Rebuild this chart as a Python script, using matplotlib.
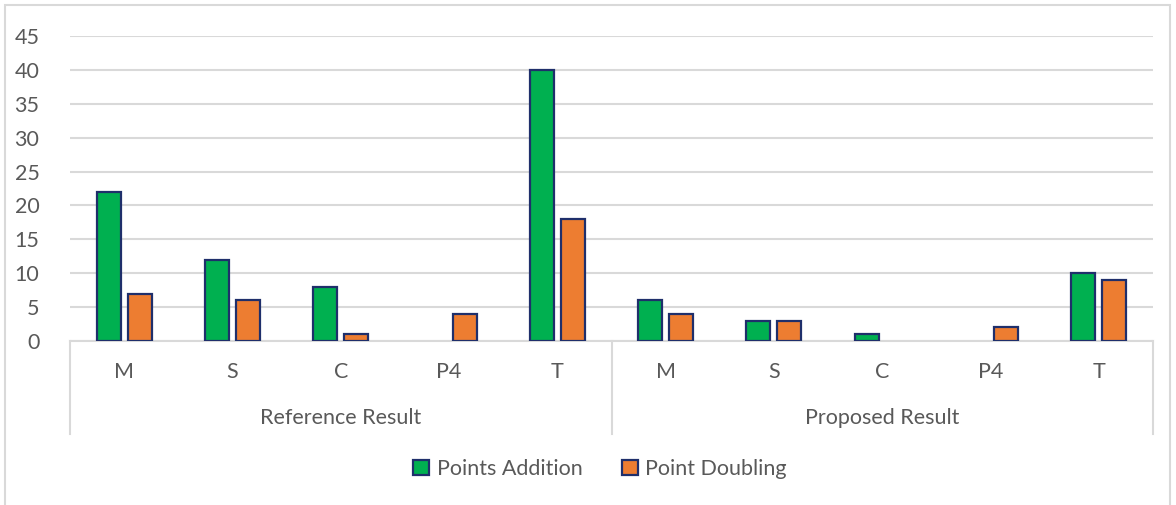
import numpy as np
import matplotlib.pyplot as plt
from matplotlib.patches import Rectangle
from matplotlib.transforms import blended_transform_factory

plt.rcParams["font.family"] = ["Lato", "DejaVu Sans"]

groups = ["Reference Result", "Proposed Result"]
categories = ["M", "S", "C", "P4", "T"]
points_addition = [22, 12, 8, 0, 40, 6, 3, 1, 0, 10]
point_doubling = [7, 6, 1, 4, 18, 4, 3, 0, 2, 9]
y_ticks = [0, 5, 10, 15, 20, 25, 30, 35, 40, 45]

GREEN = "#00B050"
ORANGE = "#ED7D31"
EDGE = "#1F2F6B"
GRID = "#D9D9D9"
TEXT = "#595959"
FS = 15.5

fig = plt.figure(figsize=(11.76, 5.05), dpi=100)
ax = fig.add_axes([70 / 1176, 1 - 341 / 505, (1153 - 70) / 1176, (341 - 36) / 505])

n = len(points_addition)
x = np.arange(n) + 0.5
width = 0.222
offset = 0.143


def draw_series(pos, values, color, label):
    # zero values get no bar at all
    vals = np.asarray(values, dtype=float)
    keep = vals > 0
    ax.bar(pos[keep], vals[keep], width, color=color, edgecolor=EDGE,
           linewidth=1.6, label=label, zorder=3)


draw_series(x - offset, points_addition, GREEN, "Points Addition")
draw_series(x + offset, point_doubling, ORANGE, "Point Doubling")

ax.set_xlim(0, n)
ax.set_ylim(0, 45)
ax.set_yticks(y_ticks)
ax.tick_params(axis="y", length=0, pad=22, labelsize=FS, labelcolor=TEXT)
ax.set_xticks([])
ax.yaxis.grid(True, color=GRID, linewidth=1.5, zorder=0)
for s in ["top", "right", "left"]:
    ax.spines[s].set_visible(False)
ax.spines["bottom"].set_color(GRID)
ax.spines["bottom"].set_linewidth(1.5)

# two-level category axis
trans = blended_transform_factory(ax.transData, ax.transAxes)
labels = categories * len(groups)
for xi, lab in zip(x, labels):
    ax.text(xi, -0.102, lab, transform=trans, ha="center", va="center",
            fontsize=FS, color=TEXT)
per = len(categories)
for gi, g in enumerate(groups):
    ax.text(gi * per + per / 2, -0.252, g, transform=trans, ha="center",
            va="center", fontsize=FS, color=TEXT)
for bx in range(0, n + 1, per):
    ax.plot([bx, bx], [0, -0.305], transform=trans, color=GRID,
            linewidth=1.5, clip_on=False)

leg = fig.legend(loc="center", bbox_to_anchor=(600 / 1176, 1 - 469 / 505),
                 ncol=2, frameon=False, fontsize=FS, handlelength=0.75,
                 handleheight=0.75, handletextpad=0.35, columnspacing=1.8)
for t in leg.get_texts():
    t.set_color(TEXT)

# chart frame
fig.patches.append(Rectangle((5 / 1176, -0.01), 1165 / 1176, 1 - 5 / 505 + 0.01,
                             transform=fig.transFigure, fill=False,
                             edgecolor=GRID, linewidth=1.5))

fig.savefig("out.png", dpi=100)
